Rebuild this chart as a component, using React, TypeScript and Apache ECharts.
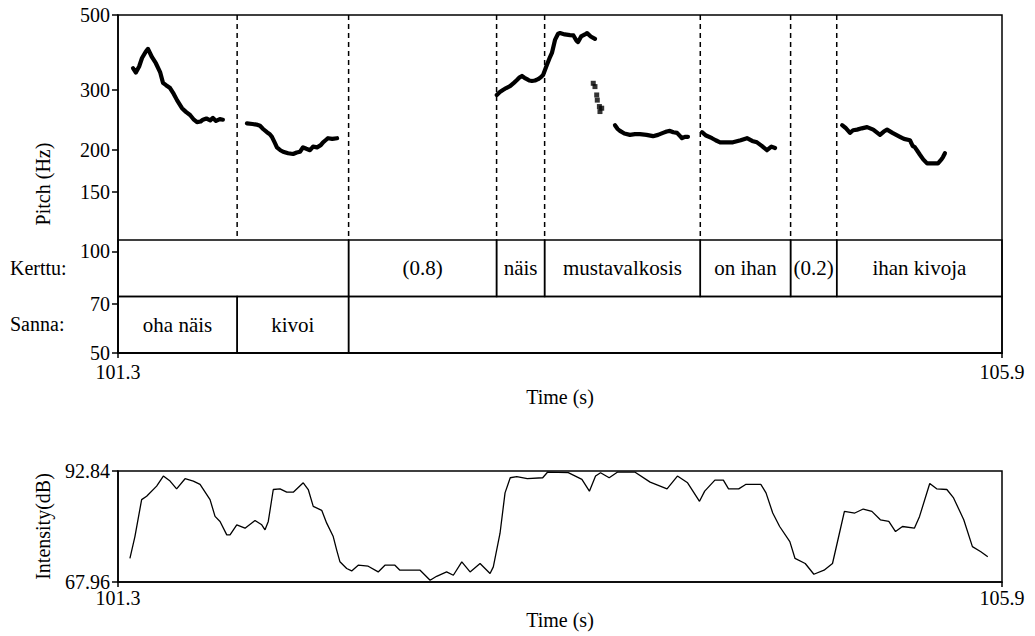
import React, { useEffect, useRef } from "react";
import * as echarts from "echarts";

const T_MIN = 101.3;
const T_MAX = 105.9;
const timeTicks = [101.3, 105.9];
const pitchTicks = [50, 70, 100, 150, 200, 300, 500];
const intensityTicks = [67.96, 92.84];

// Pitch contours [time s, Hz]
const pitchOhaNais = [[101.378,348],[101.393,338],[101.41,352],[101.425,373],[101.445,390],[101.456,397],[101.477,375],[101.497,360],[101.519,339],[101.534,315],[101.55,310],[101.571,304],[101.59,292],[101.607,280],[101.633,265],[101.655,258],[101.675,253],[101.695,245],[101.711,241],[101.73,242],[101.742,245],[101.76,247],[101.78,244],[101.794,248],[101.81,243],[101.83,246],[101.846,245]];
const pitchKivoi = [[101.971,239],[102.0,238],[102.02,237],[102.039,235],[102.055,230],[102.075,225],[102.09,222],[102.101,218],[102.115,210],[102.127,203],[102.145,199],[102.159,197],[102.185,195],[102.211,194],[102.23,196],[102.247,197],[102.263,203],[102.28,201],[102.299,199],[102.315,204],[102.336,203],[102.355,206],[102.367,210],[102.38,213],[102.393,216],[102.415,215],[102.44,216]];
const pitchNaisMusta = [[103.271,290],[103.287,296],[103.303,300],[103.32,304],[103.34,308],[103.36,315],[103.376,321],[103.39,327],[103.402,330],[103.415,326],[103.428,323],[103.44,320],[103.454,319],[103.47,320],[103.486,323],[103.5,327],[103.512,332],[103.532,356],[103.545,372],[103.558,386],[103.574,422],[103.59,440],[103.6,442],[103.625,438],[103.652,436],[103.67,435],[103.685,420],[103.694,416],[103.71,432],[103.73,438],[103.741,442],[103.76,432],[103.782,425]];
const pitchMustaDrop = [[103.773,314],[103.782,307],[103.791,290],[103.794,280],[103.805,268],[103.817,265],[103.808,259]];
const pitchMustaTail = [[103.886,236],[103.9,230],[103.912,227],[103.935,223],[103.964,221],[103.99,222],[104.016,222],[104.05,221],[104.084,219],[104.11,221],[104.136,224],[104.155,226],[104.172,227],[104.19,225],[104.209,224],[104.225,219],[104.235,216],[104.25,218],[104.266,218]];
const pitchOnIhan = [[104.339,225],[104.36,220],[104.391,216],[104.41,213],[104.433,210],[104.465,210],[104.5,210],[104.54,213],[104.573,216],[104.6,212],[104.625,210],[104.65,205],[104.677,199],[104.7,204],[104.719,202]];
const pitchIhanKivoja = [[105.068,236],[105.085,232],[105.109,224],[105.125,228],[105.146,229],[105.17,231],[105.198,233],[105.23,229],[105.265,221],[105.285,226],[105.302,229],[105.33,224],[105.369,218],[105.39,215],[105.421,213],[105.435,205],[105.447,203],[105.46,198],[105.473,193],[105.49,187],[105.51,182],[105.54,182],[105.567,182],[105.585,187],[105.593,190],[105.603,195]];

// Intensity [time s, dB]
const intensity = [[101.362,73.24],[101.388,78.14],[101.423,86.43],[101.449,87.19],[101.501,89.45],[101.536,91.71],[101.571,90.58],[101.605,88.84],[101.649,91.11],[101.692,90.58],[101.727,89.83],[101.779,86.43],[101.805,82.66],[101.831,81.53],[101.866,78.52],[101.883,78.52],[101.918,80.78],[101.961,80.02],[102.013,81.76],[102.048,80.78],[102.065,79.65],[102.082,81.53],[102.108,88.69],[102.143,88.84],[102.178,88.09],[102.212,88.09],[102.264,90.2],[102.29,88.69],[102.316,84.92],[102.36,84.02],[102.386,81.15],[102.42,78.14],[102.438,75.12],[102.455,72.48],[102.49,70.98],[102.516,70.45],[102.55,71.73],[102.602,71.5],[102.654,70.22],[102.689,71.73],[102.741,71.73],[102.767,70.6],[102.872,70.6],[102.924,68.34],[102.958,69.24],[103.01,70.22],[103.045,69.47],[103.089,72.48],[103.132,70.22],[103.184,72.11],[103.236,69.85],[103.253,71.35],[103.288,78.89],[103.314,87.94],[103.341,91.33],[103.375,91.56],[103.43,91.11],[103.51,91.33],[103.536,92.61],[103.643,92.46],[103.714,90.96],[103.753,88.32],[103.785,91.71],[103.811,92.46],[103.856,91.33],[103.9,92.61],[103.989,92.61],[104.069,90.35],[104.157,88.84],[104.211,91.71],[104.264,90.2],[104.326,86.05],[104.353,88.32],[104.406,90.8],[104.45,90.8],[104.477,88.84],[104.53,88.84],[104.566,89.83],[104.645,89.83],[104.672,87.94],[104.707,83.42],[104.743,80.4],[104.796,77.01],[104.823,73.24],[104.876,72.11],[104.921,69.7],[104.974,70.6],[105.018,72.11],[105.054,78.89],[105.08,83.79],[105.134,83.42],[105.178,84.32],[105.223,83.79],[105.267,81.91],[105.311,81.53],[105.346,79.27],[105.382,80.4],[105.444,80.02],[105.471,82.66],[105.524,90.05],[105.56,88.84],[105.613,88.69],[105.648,86.81],[105.701,81.91],[105.746,75.88],[105.79,74.75],[105.826,73.62]];

// Annotation tiers [start, end, label]
const kerttuTier: [number, number, string][] = [[101.3,102.5,""],[102.5,103.27,"(0.8)"],[103.27,103.52,"näis"],[103.52,104.33,"mustavalkosis"],[104.33,104.8,"on ihan"],[104.8,105.04,"(0.2)"],[105.04,105.9,"ihan kivoja"]];
const sannaTier: [number, number, string][] = [[101.3,101.92,"oha näis"],[101.92,102.5,"kivoi"],[102.5,105.9,""]];
const tierNames = ["Kerttu:", "Sanna:"];

const FONT = "Liberation Serif";
const TIER_ROW_FRAC = 56.5 / 338;

export default function App() {
  const ref = useRef<HTMLDivElement>(null);
  useEffect(() => {
    if (!ref.current) return;
    const chart = echarts.init(ref.current, undefined, { renderer: "svg" });

    const tierData: any[] = [];
    const tierLabels: string[] = [];
    [kerttuTier, sannaTier].forEach((tier, ti) => {
      tier.forEach(([s, e, l]) => {
        tierData.push([s, e, ti]);
        tierLabels.push(l);
      });
    });
    const boundarySet = new Set<number>();
    [kerttuTier, sannaTier].forEach((tier) =>
      tier.forEach(([s, e]) => {
        if (s > T_MIN && s < T_MAX) boundarySet.add(s);
        if (e > T_MIN && e < T_MAX) boundarySet.add(e);
      })
    );
    const boundaries = Array.from(boundarySet).sort((a, b) => a - b).map((v) => [v]);

    const pitchLine = (data: number[][]) => ({
      type: "line",
      xAxisIndex: 0,
      yAxisIndex: 0,
      data,
      showSymbol: false,
      symbol: "none",
      lineStyle: { color: "#000", width: 4.2, join: "round", cap: "round" },
      z: 5,
    });

    const axisTextStyle = { fontFamily: FONT, fontSize: 20, color: "#000" };
    const tickTextStyle = { ...axisTextStyle, lineHeight: 16 };

    const option: any = {
      animation: false,
      textStyle: { fontFamily: FONT },
      grid: [
        { left: 118, top: 15, width: 884, height: 338, show: true, borderColor: "#000", borderWidth: 1.5 },
        { left: 118, top: 471, width: 884, height: 111, show: true, borderColor: "#000", borderWidth: 1.5 },
      ],
      xAxis: [0, 1].map((gi) => ({
        gridIndex: gi,
        type: "value",
        min: T_MIN,
        max: T_MAX,
        name: "Time (s)",
        nameLocation: "middle",
        nameGap: gi === 0 ? 34 : 28,
        nameTextStyle: axisTextStyle,
        axisLine: { show: true, onZero: false, lineStyle: { color: "#000", width: 1.5 } },
        axisTick: { show: true, inside: false, length: 5, customValues: timeTicks, lineStyle: { color: "#000", width: 1.5 } },
        axisLabel: { customValues: timeTicks, formatter: (v: number) => v.toFixed(1), margin: gi === 0 ? 11 : 8, ...tickTextStyle },
        splitLine: { show: false },
      })),
      yAxis: [
        {
          gridIndex: 0,
          type: "log",
          logBase: 10,
          min: 50,
          max: 500,
          name: "Pitch (Hz)",
          nameLocation: "middle",
          nameRotate: 90,
          nameGap: 65,
          nameTextStyle: axisTextStyle,
          axisLine: { show: true, lineStyle: { color: "#000", width: 1.5 } },
          axisTick: { show: true, inside: false, length: 6, customValues: pitchTicks, lineStyle: { color: "#000", width: 1.5 } },
          axisLabel: { customValues: pitchTicks, formatter: (v: number) => String(Math.round(v)), margin: 8, ...tickTextStyle },
          splitLine: { show: false },
          minorTick: { show: false },
        },
        {
          gridIndex: 1,
          type: "value",
          min: 67.96,
          max: 92.84,
          name: "Intensity(dB)",
          nameLocation: "middle",
          nameRotate: 90,
          nameGap: 65,
          nameTextStyle: axisTextStyle,
          axisLine: { show: true, lineStyle: { color: "#000", width: 1.5 } },
          axisTick: { show: true, inside: false, length: 6, customValues: intensityTicks, lineStyle: { color: "#000", width: 1.5 } },
          axisLabel: { customValues: intensityTicks, formatter: (v: number) => v.toFixed(2), margin: 8, ...tickTextStyle },
          splitLine: { show: false },
        },
      ],
      graphic: tierNames.map((n, i) => ({
        type: "text",
        left: 10,
        top: i === 0 ? 258 : 314,
        style: { text: n, fontFamily: FONT, fontSize: 20, fill: "#000" },
      })),
      series: [
        pitchLine(pitchOhaNais),
        pitchLine(pitchKivoi),
        pitchLine(pitchNaisMusta),
        {
          type: "scatter",
          xAxisIndex: 0,
          yAxisIndex: 0,
          data: pitchMustaDrop,
          symbol: "rect",
          symbolSize: 5,
          itemStyle: { color: "#000" },
          z: 5,
        },
        pitchLine(pitchMustaTail),
        pitchLine(pitchOnIhan),
        pitchLine(pitchIhanKivoja),
        {
          type: "custom",
          xAxisIndex: 0,
          yAxisIndex: 0,
          data: boundaries,
          encode: { x: 0 },
          renderItem: (params: any, api: any) => {
            const cs = params.coordSys;
            const x = api.coord([api.value(0), 100])[0];
            const tierTop = cs.y + cs.height - 2 * cs.height * TIER_ROW_FRAC;
            return {
              type: "line",
              shape: { x1: x, y1: cs.y, x2: x, y2: tierTop },
              style: { stroke: "#000", lineWidth: 1.5, lineDash: [5, 4] },
            };
          },
          z: 3,
        },
        {
          type: "custom",
          xAxisIndex: 0,
          yAxisIndex: 0,
          data: tierData,
          encode: { x: [0, 1] },
          renderItem: (params: any, api: any) => {
            const cs = params.coordSys;
            const x0 = api.coord([api.value(0), 100])[0];
            const x1 = api.coord([api.value(1), 100])[0];
            const idx = api.value(2);
            const rowH = cs.height * TIER_ROW_FRAC;
            const top = cs.y + cs.height - rowH * (2 - idx);
            return {
              type: "group",
              children: [
                {
                  type: "rect",
                  shape: { x: x0, y: top, width: x1 - x0, height: rowH },
                  style: { fill: "none", stroke: "#000", lineWidth: 1.5 },
                },
                {
                  type: "text",
                  style: {
                    text: tierLabels[params.dataIndex],
                    x: (x0 + x1) / 2,
                    y: top + rowH / 2,
                    align: "center",
                    verticalAlign: "middle",
                    fontFamily: FONT,
                    fontSize: 21,
                    fill: "#000",
                  },
                },
              ],
            };
          },
          z: 4,
        },
        {
          type: "line",
          xAxisIndex: 1,
          yAxisIndex: 1,
          data: intensity,
          showSymbol: false,
          symbol: "none",
          lineStyle: { color: "#000", width: 1.3 },
        },
      ],
    };
    chart.setOption(option);
    return () => chart.dispose();
  }, []);
  return <div ref={ref} style={{ position: "absolute", left: 0, top: 0, width: 1035, height: 636 }} />;
}
